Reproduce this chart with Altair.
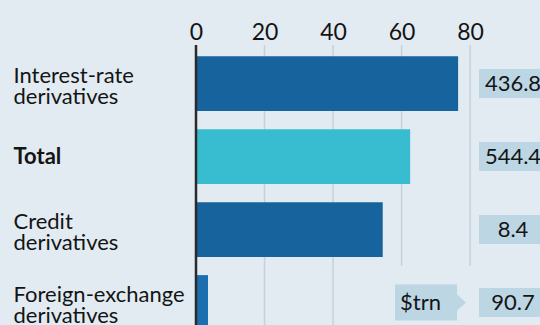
import altair as alt
import pandas as pd

categories = ["Interest-rate derivatives", "Total", "Credit derivatives", "Foreign-exchange derivatives"]
values = [76.5, 62.5, 54.5, 3.5]
totals = ["436.8", "544.4", "8.4", "90.7"]
bar_colors = ["#17639e", "#38bccf", "#17639e", "#1b6fb0"]
ticks = [0, 20, 40, 60, 80]
grid_full = [20, 40]
grid_short = [60, 80]
unit = "$trn"

df = pd.DataFrame({"cat": categories, "value": values, "total": totals, "color": bar_colors})

FONT = "Lato"
BG = "#e2ebf2"
BOX = "#bcd6e4"
GRID = "#c6d1da"
INK = "#141414"

xscale = alt.Scale(domain=[0, 100.4], nice=False, zero=False)
yscale = alt.Scale(domain=categories, paddingInner=0.25, paddingOuter=0.125)

yenc = alt.Y(
    "cat:N",
    scale=yscale,
    sort=categories,
    axis=alt.Axis(
        title=None,
        orient="left",
        domain=False,
        ticks=False,
        grid=False,
        labelAlign="left",
        labelBaseline="middle",
        labelPadding=183,
        labelFontSize=22,
        labelLineHeight=21,
        labelFont=FONT,
        labelColor=INK,
        labelLimit=300,
        labelExpr="split(datum.label, ' ')",
        labelOffset={"condition": {"test": "datum.value == 'Total'", "value": 0}, "value": -8},
        labelFontWeight={"condition": {"test": "datum.value == 'Total'", "value": "bold"}, "value": "normal"},
    ),
)

bars = alt.Chart(df).mark_bar().encode(
    x=alt.X(
        "value:Q",
        scale=xscale,
        axis=alt.Axis(
            title=None,
            orient="top",
            values=ticks,
            domain=False,
            ticks=False,
            grid=False,
            labelFlush=False,
            labelFontSize=23,
            labelFont=FONT,
            labelColor=INK,
            labelPadding=3,
        ),
    ),
    y=yenc,
    color=alt.Color("color:N", scale=None),
)

grid1 = alt.Chart(pd.DataFrame({"g": grid_full})).mark_rule(color=GRID, strokeWidth=1.5).encode(
    x=alt.X("g:Q", scale=xscale), y=alt.value(-2), y2=alt.value(300)
)
grid2 = alt.Chart(pd.DataFrame({"g": grid_short})).mark_rule(color=GRID, strokeWidth=1.5).encode(
    x=alt.X("g:Q", scale=xscale), y=alt.value(-2), y2=alt.value(219)
)
zero = alt.Chart(pd.DataFrame({"g": [0]})).mark_rule(color="#2a2a2a", strokeWidth=2.5).encode(
    x=alt.X("g:Q", scale=xscale), y=alt.value(-2), y2=alt.value(300)
)

boxes = alt.Chart(df).mark_bar(size=29, color=BOX).encode(
    y=alt.Y("cat:N", scale=yscale, sort=categories),
    x=alt.value(283),
    x2=alt.value(352),
)
box_text = alt.Chart(df).mark_text(font=FONT, fontSize=22, color=INK, align="center", baseline="middle").encode(
    y=alt.Y("cat:N", scale=yscale, sort=categories),
    x=alt.value(317),
    text="total:N",
)

unit_df = pd.DataFrame({"cat": [categories[-1]], "u": [unit]})
unit_box = alt.Chart(unit_df).mark_bar(size=36, color=BOX).encode(
    y=alt.Y("cat:N", scale=yscale, sort=categories),
    x=alt.value(199),
    x2=alt.value(261),
)
unit_arrow = alt.Chart(unit_df).mark_point(
    shape="M -0.5 -1 L 0.6 0 L -0.5 1 Z", size=324, filled=True, color=BOX, opacity=1, strokeWidth=0
).encode(
    y=alt.Y("cat:N", scale=yscale, sort=categories),
    x=alt.value(264.6),
)
unit_text = alt.Chart(unit_df).mark_text(font=FONT, fontSize=22, color=INK, align="left", baseline="middle").encode(
    y=alt.Y("cat:N", scale=yscale, sort=categories),
    x=alt.value(204),
    text="u:N",
)

chart = alt.layer(
    grid1, grid2, bars, zero, boxes, box_text, unit_box, unit_arrow, unit_text
).properties(
    width=344,
    height=292,
    background=BG,
    padding={"left": 196, "top": 47, "right": 0, "bottom": 0},
    autosize=alt.AutoSizeParams(type="none"),
).configure_view(stroke=None)

chart.save("out.html", embed_options={"renderer": "svg", "actions": False})
